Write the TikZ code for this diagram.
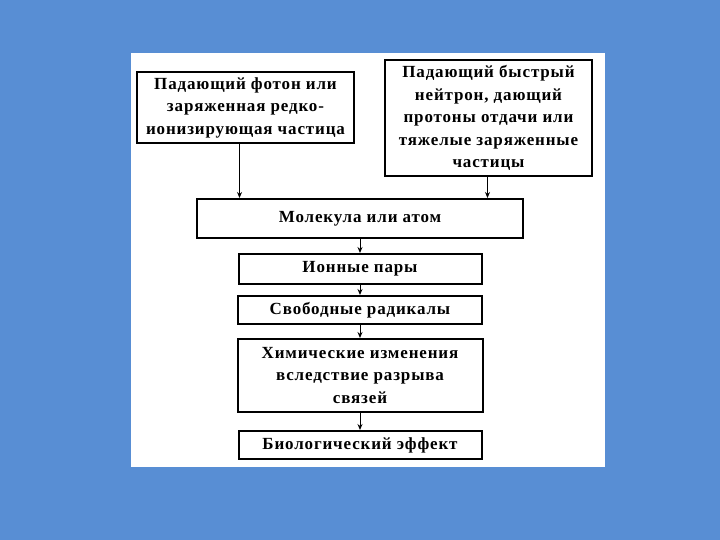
\documentclass[tikz,border=0pt]{standalone}
\usepackage{fontspec}
\setmainfont{Liberation Serif}
\usetikzlibrary{arrows.meta, positioning}
\definecolor{slideblue}{RGB}{88,142,212}
\tikzset{
  box/.style={rectangle, draw=black, line width=2pt, fill=white,
              align=center, inner sep=1pt,
              font=\bfseries\fontsize{17}{22.5}\selectfont\addfontfeature{LetterSpace=5}},
  arr/.style={-{Stealth[length=6pt,width=5pt]}, line width=1pt},
}

\begin{document}
\begin{tikzpicture}[x=1pt, y=-1pt]
  %% === Slide background and white panel ===
  \fill[slideblue] (0,0) rectangle (720,540);
  \fill[white] (131,53) rectangle (605,467);

  %% === Two sources (top) ===
  \node[box, minimum width=217pt, minimum height=71pt] (photon) at (245.5,107.5)
        {Падающий фотон или\\заряженная редко-\\ионизирующая частица};
  \node[box, minimum width=207pt, minimum height=116pt] (neutron) at (488.5,118)
        {Падающий быстрый\\нейтрон, дающий\\протоны отдачи или\\тяжелые заряженные\\частицы};

  %% === Main top-to-bottom chain ===
  \node[box, minimum width=326pt, minimum height=39pt] (mol) at (360,218.5)
        {Молекула или атом};
  \node[box, below=14pt of mol, minimum width=243pt, minimum height=30pt] (ions)
        {Ионные пары};
  \node[box, below=10pt of ions, minimum width=244pt, minimum height=28pt] (rad)
        {Свободные радикалы};
  \node[box, below=13pt of rad, minimum width=245pt, minimum height=73pt] (chem)
        {Химические изменения\\вследствие разрыва\\связей};
  \node[box, below=17pt of chem, minimum width=243pt, minimum height=28pt] (bio)
        {Биологический эффект};

  %% === Arrows ===
  \draw[arr] ([xshift=-6pt]photon.south) -- ([xshift=-6pt]photon.south |- mol.north);
  \draw[arr] ([xshift=-1pt]neutron.south) -- ([xshift=-1pt]neutron.south |- mol.north);
  \draw[arr] (mol)  -- (ions);
  \draw[arr] (ions) -- (rad);
  \draw[arr] (rad)  -- (chem);
  \draw[arr] (chem) -- (bio);
\end{tikzpicture}
\end{document}
